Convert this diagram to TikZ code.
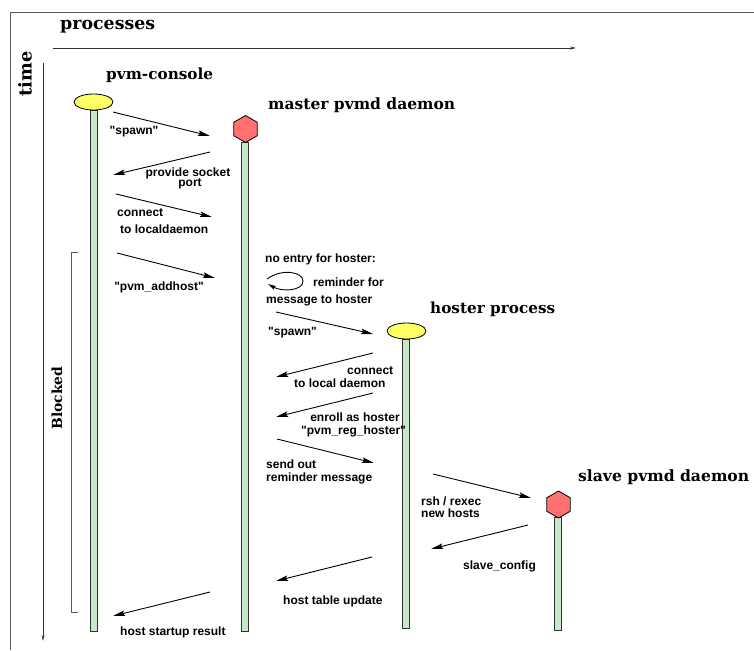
\documentclass[tikz,border=0pt]{standalone}
\usepackage{fontspec}
\newfontfamily\labfont{Liberation Sans}
\newfontfamily\ttlfont{DejaVu Serif}
\usetikzlibrary{arrows.meta,shapes.geometric}
\definecolor{conyel}{RGB}{255,255,102}
\definecolor{hexred}{RGB}{255,112,112}
\definecolor{lifegreen}{RGB}{200,230,200}
\definecolor{framegray}{RGB}{90,90,90}
\definecolor{linegray}{RGB}{50,50,50}
\newcommand{\ttltext}[2]{\resizebox{#1pt}{!}{\ttlfont\bfseries\fontsize{10}{12}\selectfont #2}}
\begin{document}
\begin{tikzpicture}[x=1pt,y=-1pt,
  msg/.style={draw=black, line width=0.9pt, -{Stealth[length=12pt,width=5.5pt,inset=2pt]}},
  axisline/.style={draw=linegray, line width=0.9pt, -{Stealth[length=6pt,width=3pt]}},
  framel/.style={draw=framegray, line width=1pt},
  bracketl/.style={draw=framegray, line width=0.9pt},
  lbl/.style={font=\labfont\bfseries\fontsize{12}{14}\selectfont, inner sep=0pt},
  ttl/.style={inner sep=0pt, anchor=west},
  lifeline/.style={draw=linegray, fill=lifegreen, line width=0.8pt, inner sep=0pt, minimum width=6.5pt, anchor=north},
  procell/.style={ellipse, draw=black, fill=conyel, line width=0.8pt, minimum width=39pt, minimum height=16pt, inner sep=0pt},
  prochex/.style={regular polygon, regular polygon sides=6, shape border rotate=30, draw=black, fill=hexred, line width=0.8pt, minimum size=27pt, inner sep=0pt}
]
\useasboundingbox (0,0) rectangle (754,650);

% frame
\coordinate (fb) at (10,650);
\coordinate (fc) at (10,13);
\coordinate (fr) at (754,13);
\draw[framel] (fb) -- (fc) -- (fr);

% axes
\coordinate (px0) at (53,48);
\coordinate (px1) at (576,48);
\draw[axisline] (px0) -- (px1);
\coordinate (ty0) at (43,63);
\coordinate (ty1) at (43,641);
\draw[axisline] (ty0) -- (ty1);
\node[ttl] (tproc) at (60,27) {\ttltext{95}{processes}};
\node[inner sep=0pt, rotate=90] (ttime) at (25,74) {\ttltext{45}{time}};

% blocked bracket
\coordinate (bk0) at (78,252);
\coordinate (bk1) at (71,252);
\coordinate (bk2) at (71,612);
\coordinate (bk3) at (78,612);
\draw[bracketl] (bk0) -- (bk1) -- (bk2) -- (bk3);
\node[inner sep=0pt, rotate=90] (tblocked) at (57,398) {\ttltext{63}{Blocked}};

% lifelines
\node[lifeline, minimum height=521pt] (lcon) at (94,110) {};
\node[lifeline, minimum height=489pt] (lmas) at (245,142) {};
\node[lifeline, minimum height=289pt] (lhos) at (406,339) {};
\node[lifeline, minimum height=113pt] (lsla) at (558,517) {};

% process heads
\node[procell] (pcon) at (93.5,102) {};
\node[prochex] (pmas) at (245.5,129) {};
\node[procell] (phos) at (406.5,331) {};
\node[prochex] (psla) at (558.5,504.5) {};

% titles
\node[ttl] (tcon) at (106,75) {\ttltext{107}{pvm-console}};
\node[ttl] (tmas) at (268,105) {\ttltext{187}{master pvmd daemon}};
\node[ttl] (thos) at (430,309) {\ttltext{125}{hoster process}};
\node[ttl] (tsla) at (578,477) {\ttltext{171}{slave pvmd daemon}};

% messages
\coordinate (m1a) at (113,112);  \coordinate (m1b) at (210,136);
\coordinate (m2a) at (210,152);  \coordinate (m2b) at (113,175);
\coordinate (m3a) at (116,194);  \coordinate (m3b) at (212,217);
\coordinate (m4a) at (117,253);  \coordinate (m4b) at (215,278);
\coordinate (m5a) at (276,312);  \coordinate (m5b) at (373,334);
\coordinate (m6a) at (373,353);  \coordinate (m6b) at (276,377);
\coordinate (m7a) at (373,393);  \coordinate (m7b) at (276,417);
\coordinate (m8a) at (277,439);  \coordinate (m8b) at (374,463);
\coordinate (m9a) at (433,474);  \coordinate (m9b) at (531,498);
\coordinate (m10a) at (528,525); \coordinate (m10b) at (431,549);
\coordinate (m11a) at (372,557); \coordinate (m11b) at (276,581);
\coordinate (m12a) at (210,592); \coordinate (m12b) at (113,616);
\foreach \m in {1,...,12}{\draw[msg] (m\m a) -- (m\m b);}

% self loop
\coordinate (lp0) at (267,279);
\coordinate (lp1) at (303,281);
\coordinate (lp2) at (268,284);
\draw[draw=black, line width=0.9pt, -{Stealth[length=8pt,width=4pt,inset=1.5pt]}]
  (lp0) .. controls (282,268) and (303,272) .. (lp1)
  .. controls (303,291) and (282,292) .. (lp2);

% labels
\node[lbl] (l1) at (134,132) {"spawn"};
\node[lbl] (l2a) at (188,173) {provide socket};
\node[lbl] (l2b) at (190,184) {port};
\node[lbl, anchor=west] (l3a) at (117,213) {connect};
\node[lbl, anchor=west] (l3b) at (120,229) {to localdaemon};
\node[lbl] (l4) at (159,287) {"pvm\_addhost"};
\node[lbl, anchor=west] (l5a) at (265,259) {no entry for hoster:};
\node[lbl, anchor=west] (l5b) at (313,282) {reminder for};
\node[lbl, anchor=west] (l5c) at (266,300) {message to hoster};
\node[lbl, anchor=west] (l6) at (268,333) {"spawn"};
\node[lbl, anchor=west] (l7a) at (347,371) {connect};
\node[lbl, anchor=west] (l7b) at (294,383) {to local daemon};
\node[lbl] (l8a) at (355,417) {enroll as hoster};
\node[lbl] (l8b) at (353.5,431) {"pvm\_reg\_hoster"};
\node[lbl, anchor=west] (l9a) at (266,464) {send out};
\node[lbl, anchor=west] (l9b) at (266,478) {reminder message};
\node[lbl, anchor=west] (l10a) at (421,501) {rsh / rexec};
\node[lbl, anchor=west] (l10b) at (421,513) {new hosts};
\node[lbl, anchor=west] (l11) at (463,566) {slave\_config};
\node[lbl, anchor=west] (l12) at (283,601) {host table update};
\node[lbl, anchor=west] (l13) at (120,632) {host startup result};
\end{tikzpicture}
\end{document}
